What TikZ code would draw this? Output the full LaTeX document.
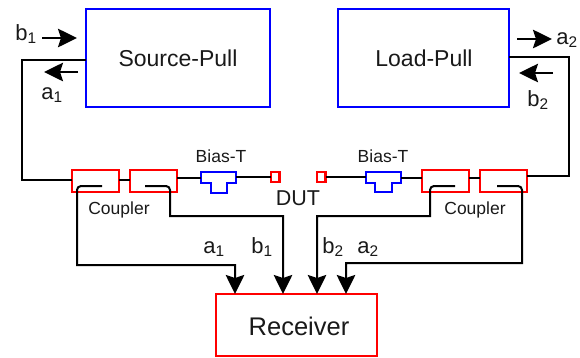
\documentclass[tikz,border=0pt]{standalone}
\usepackage{fontspec}
\setmainfont{Liberation Sans}
\usetikzlibrary{arrows.meta,positioning}
\newcommand{\lbl}[2]{#1\textsubscript{#2}}
\tikzset{
  bluebox/.style={draw=blue,line width=2.4pt,fill=none,inner sep=0pt,outer sep=0pt},
  redbox/.style={draw=red,line width=2.4pt,inner sep=0pt,outer sep=0pt},
  cpl/.style={redbox,minimum width=47pt,minimum height=22pt},
  dutpad/.style={redbox,minimum width=8.5pt,minimum height=10pt},
  wire/.style={draw=black,line width=2pt,line join=miter},
  arr/.style={wire,-{Stealth[length=19pt,width=18.5pt,inset=3pt]}},
  arrs/.style={wire,-{Stealth[length=19pt,width=18.5pt,inset=3pt]}},
  bias/.style={draw=blue,line width=2.4pt,line join=miter},
  txt/.style={inner sep=0pt,text=black!90},
  big/.style={txt,font=\fontsize{23}{25}\selectfont},
  med/.style={txt,font=\fontsize{22}{24}\selectfont},
  small/.style={txt,font=\fontsize{17.5}{19}\selectfont},
}
\begin{document}
\begin{tikzpicture}[x=1pt,y=-1pt]
\useasboundingbox (0,0) rectangle (580,357);
% main boxes
\node[bluebox,minimum width=184pt,minimum height=98pt,anchor=north west] (src) at (86,9) {};
\node[big] (srct) at (178,58) {Source-Pull};
\node[bluebox,minimum width=171pt,minimum height=98pt,anchor=north west] (load) at (338,9) {};
\node[big] (loadt) at (424,58) {Load-Pull};
\node[redbox,minimum width=161pt,minimum height=62pt,anchor=north west] (rx) at (216,294) {};
\node[txt,font=\fontsize{25.5}{28}\selectfont] (rxt) at (299,326) {Receiver};
% couplers
\node[cpl,anchor=north west] (c1) at (72,170) {};
\node[cpl,anchor=north west] (c2) at (130,170) {};
\node[cpl,anchor=north west] (c3) at (422,170) {};
\node[cpl,anchor=north west] (c4) at (480,170) {};
% DUT pads
\node[dutpad,anchor=north west] (p1) at (271,172) {};
\node[dutpad,anchor=north west] (p2) at (317,172) {};
% bias tees
\coordinate (bl1) at (201,178); \coordinate (br1) at (236,177);
\coordinate (bl2) at (366,177); \coordinate (br2) at (401,178);
\draw[bias] (201,172) -- (236,172) -- (236,183) -- (227,183) -- (227,193) -- (211,193) -- (211,183) -- (201,183) -- cycle;
\draw[bias] (366,172) -- (401,172) -- (401,183) -- (392,183) -- (392,192) -- (375,192) -- (375,183) -- (366,183) -- cycle;
% through line
\draw[wire] (src.west |- 0,60) -- (22,60) -- (22,180) -- (c1.west |- 0,180);
\draw[wire] (c1.east |- 0,180) -- (c2.west |- 0,180);
\draw[wire] (c2.east |- 0,178) -- (bl1);
\draw[wire] (br1) -- (p1.west);
\draw[wire] (p2.east) -- (bl2);
\draw[wire] (br2) -- (c3.west |- 0,178);
\draw[wire] (c3.east |- 0,178) -- (c4.west |- 0,178);
\draw[wire] (c4.east |- 0,176) -- (569,176) -- (569,57) -- (load.east |- 0,57);
% receiver feeds
\coordinate (ra1) at (235,294); \coordinate (rb1) at (283,294);
\coordinate (rb2) at (317,294); \coordinate (ra2) at (346,294);
\draw[arr] (102,186) -- (81,186) to[out=180,in=90] (77,190) -- (77,265) -- (235,265) -- (ra1);
\draw[arr] (145,186) -- (166,186) to[out=0,in=90] (170,190) -- (170,216) -- (283,216) -- (rb1);
\draw[arr] (455,186) -- (434,186) to[out=180,in=90] (430,190) -- (430,216) -- (317,216) -- (rb2);
\draw[arr] (497,186) -- (518,186) to[out=0,in=90] (522,190) -- (522,263) -- (346,263) -- (ra2);
% wave arrows
\coordinate (w1s) at (42,38); \coordinate (w1e) at (77,38);
\coordinate (w2s) at (78,72); \coordinate (w2e) at (44,72);
\coordinate (w3s) at (517,39); \coordinate (w3e) at (552,39);
\coordinate (w4s) at (553,73); \coordinate (w4e) at (519,73);
\draw[arrs] (w1s) -- (w1e);
\draw[arrs] (w2s) -- (w2e);
\draw[arrs] (w3s) -- (w3e);
\draw[arrs] (w4s) -- (w4e);
% labels
\node[med] (tb1) at (26,34) {\lbl{b}{1}};
\node[med] (ta1) at (52,95) {\lbl{a}{1}};
\node[med] (ta2) at (567,40) {\lbl{a}{2}};
\node[med] (tb2) at (538,100) {\lbl{b}{2}};
\node[med] (ra1t) at (214,249) {\lbl{a}{1}};
\node[med] (rb1t) at (262,247) {\lbl{b}{1}};
\node[med] (rb2t) at (333,247) {\lbl{b}{2}};
\node[med] (ra2t) at (368,249) {\lbl{a}{2}};
\node[small] (c1t) at (119,210) {Coupler};
\node[small] (c2t) at (475,210) {Coupler};
\node[small] (b1t) at (221,156) {Bias-T};
\node[small] (b2t) at (383,156) {Bias-T};
\node[txt,font=\fontsize{21.5}{24}\selectfont] (dut) at (298,198) {DUT};
\end{tikzpicture}
\end{document}
